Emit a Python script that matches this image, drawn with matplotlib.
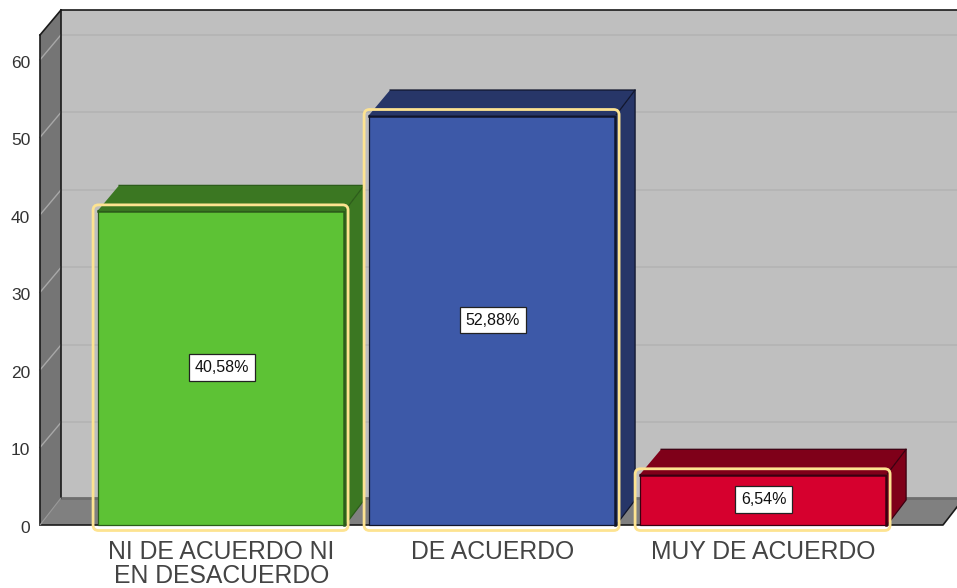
import matplotlib
matplotlib.use('Agg')
import matplotlib.pyplot as plt
from matplotlib.patches import Polygon, FancyBboxPatch
from matplotlib.transforms import ScaledTranslation

plt.rcParams['font.family'] = ['Liberation Sans', 'DejaVu Sans']

categories = ['NI DE ACUERDO NI\nEN DESACUERDO', 'DE ACUERDO', 'MUY DE ACUERDO']
values = [40.58, 52.88, 6.54]
value_labels = ['40,58%', '52,88%', '6,54%']
y_ticks = [0, 10, 20, 30, 40, 50, 60]

front_colors = ['#5DC235', '#3D59A8', '#D6002E']
side_colors = ['#3B7722', '#273668', '#7F0019']
edge_colors = ['#2C5C1A', '#10152C', '#3A0010']

WIDTH, HEIGHT = 957, 588
XMIN, XMAX = -0.67, 2.662
YMAX = 63.2
DEPTH_X = 21 / 271
DEPTH_Y = 25 / 7.75
FLOOR_Y = 27 / 7.75
BAR_W = 247 / 271
BAR_DX = 19 / 271
PX_X = 1 / 271
PX_Y = 1 / 7.75

fig = plt.figure(figsize=(WIDTH / 100, HEIGHT / 100), dpi=100)
ax = fig.add_axes([40 / WIDTH, 63 / HEIGHT, 903 / WIDTH, 490 / HEIGHT])
ax.set_xlim(XMIN, XMAX)
ax.set_ylim(0, YMAX)
ax.patch.set_visible(False)
for s in ax.spines.values():
    s.set_visible(False)


def poly(pts, color, z):
    ax.add_patch(Polygon(pts, closed=True, facecolor=color, edgecolor='none',
                         linewidth=0, zorder=z, clip_on=False))


# walls
back_right = XMAX + DEPTH_X
poly([(XMIN + DEPTH_X, DEPTH_Y), (back_right, DEPTH_Y),
      (back_right, YMAX + DEPTH_Y), (XMIN + DEPTH_X, YMAX + DEPTH_Y)], '#BFBFBF', 1)
poly([(XMIN, 0), (XMIN + DEPTH_X, DEPTH_Y),
      (XMIN + DEPTH_X, YMAX + DEPTH_Y), (XMIN, YMAX)], '#757575', 1)
poly([(XMIN, 0), (XMAX, 0), (back_right, FLOOR_Y), (XMIN + DEPTH_X, FLOOR_Y)], '#808080', 1)
ax.plot([XMIN + DEPTH_X, back_right], [FLOOR_Y, FLOOR_Y], color='#6E6E6E', lw=2, zorder=2, clip_on=False)

for t in y_ticks[1:]:
    ax.plot([XMIN, XMIN + DEPTH_X], [t, t + DEPTH_Y], color='#A8A8A8', lw=1, zorder=2, clip_on=False)
    ax.plot([XMIN + DEPTH_X, back_right], [t + DEPTH_Y, t + DEPTH_Y], color='#B5B5B5', lw=1.3, zorder=2, clip_on=False)

frame = dict(color='#1A1A1A', lw=1.2, zorder=3, clip_on=False)
ax.plot([XMIN, XMIN], [0, YMAX], **frame)
ax.plot([XMIN + DEPTH_X, XMIN + DEPTH_X], [FLOOR_Y, YMAX + DEPTH_Y], **frame)
ax.plot([XMIN, XMIN + DEPTH_X], [YMAX, YMAX + DEPTH_Y], **frame)
ax.plot([XMIN + DEPTH_X, back_right], [YMAX + DEPTH_Y, YMAX + DEPTH_Y], **frame)
ax.plot([XMIN, XMAX, back_right], [0, 0, FLOOR_Y], **frame)
ax.plot([XMIN, XMIN + DEPTH_X], [0, FLOOR_Y], color='#999999', lw=0.8, zorder=3, clip_on=False)

# bars
for i, v in enumerate(values):
    l, r = i - BAR_W / 2, i + BAR_W / 2
    edge = edge_colors[i]
    poly([(l, v), (r, v), (r + BAR_DX, v + DEPTH_Y), (l + DEPTH_X, v + DEPTH_Y)], side_colors[i], 4)
    poly([(r, 0), (r + BAR_DX, DEPTH_Y), (r + BAR_DX, v + DEPTH_Y), (r, v)], side_colors[i], 4)
    ax.plot([l + DEPTH_X, r + BAR_DX, r + BAR_DX, r], [v + DEPTH_Y, v + DEPTH_Y, DEPTH_Y, 0],
            color=edge, lw=0.9, zorder=5, clip_on=False)
    ax.plot([r, r + BAR_DX], [v, v + DEPTH_Y], color=edge, lw=0.9, zorder=5, clip_on=False)
    ax.bar(i, v, width=BAR_W, color=front_colors[i], edgecolor='none', zorder=6, clip_on=False)
    ax.plot([l, l, r], [v, 0, 0], color=edge, lw=0.9, zorder=7, clip_on=False)
    ax.plot([l, r - 1 * PX_X, r - 1 * PX_X], [v - 1 * PX_Y, v - 1 * PX_Y, 0], color=edge, lw=1.8, zorder=7, clip_on=False)
    # yellow selection frame
    ax.add_patch(FancyBboxPatch((l - 5 * PX_X, -5.5 * PX_Y), BAR_W + 8 * PX_X, v + 11 * PX_Y,
                                boxstyle='round,pad=0,rounding_size=0.02', mutation_aspect=35,
                                facecolor='none', edgecolor='#FDE391', linewidth=2,
                                zorder=8, clip_on=False))
    ax.text(i, v / 2, value_labels[i], ha='center', va='center', fontsize=11.5, color='#111111', zorder=9,
            bbox=dict(boxstyle='square,pad=0.36', facecolor='white', edgecolor='#222222', linewidth=0.9))

ax.set_yticks(y_ticks)
ax.set_yticklabels([str(t) for t in y_ticks], fontsize=12.5, color='#333333')
ax.set_xticks(range(len(categories)))
ax.set_xticklabels(categories, fontsize=17.8, color='#444444', linespacing=1.0)
ax.tick_params(axis='both', length=0)
ax.tick_params(axis='y', pad=7)
ax.tick_params(axis='x', pad=11)
for lab in ax.get_yticklabels():
    lab.set_transform(lab.get_transform() + ScaledTranslation(0, -2 / 100, fig.dpi_scale_trans))

fig.savefig('out.png', dpi=100)
